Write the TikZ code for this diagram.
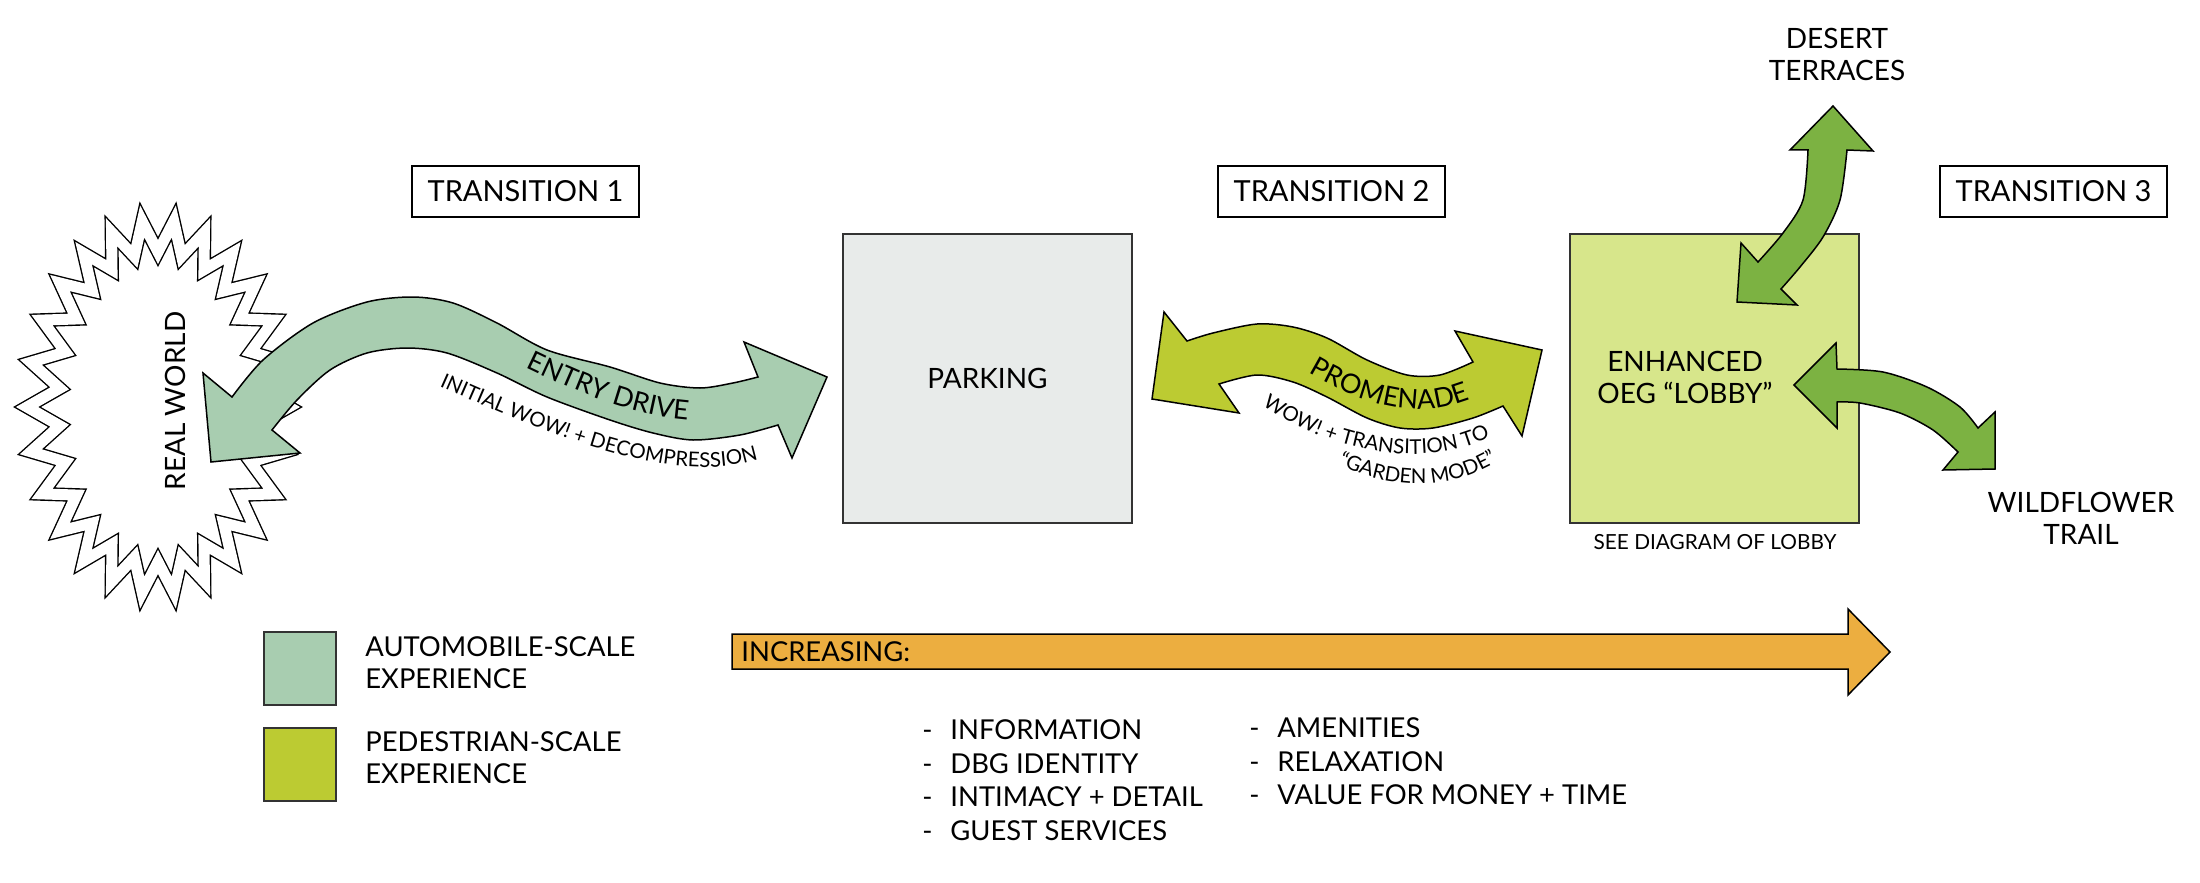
\documentclass[tikz,border=0pt]{standalone}
\usepackage{fontspec}
\setmainfont{Lato}
\usetikzlibrary{decorations.text}
\definecolor{autogreen}{HTML}{A8CDB0}
\definecolor{pedgreen}{HTML}{BCCB32}
\definecolor{lobbygreen}{HTML}{D7E68B}
\definecolor{trailgreen}{HTML}{7CB242}
\definecolor{parkgray}{HTML}{E8EBEA}
\definecolor{increaseorange}{HTML}{ECAE40}
\tikzset{
  transbox/.style={draw, line width=0.8pt, minimum width=113.5pt, minimum height=25.5pt, inner sep=0pt, font=\fontsize{14.5}{17}\selectfont},
  bigtext/.style={inner sep=0pt, align=center, font=\fontsize{14}{16}\selectfont},
  smalltext/.style={inner sep=0pt, font=\fontsize{10.4}{12}\selectfont},
  listtext/.style={inner sep=0pt, align=left, font=\fontsize{13.7}{16}\selectfont},
  arrowline/.style={draw=black, line width=0.75pt, line join=miter},
  legendbox/.style={draw=black!80, line width=0.8pt}
}
\begin{document}
\begin{tikzpicture}[x=0.5pt, y=-0.5pt]
	\fill[white] (0,0) rectangle (2200,883);
	% real world
	\draw[line width=0.7pt, double=white, double distance=5.5pt, line join=miter]
		(289,407) \foreach \k in {1,...,51} { -- ({158+(131-32*mod(\k,2))*cos(6.9231*\k)}, {407+(187-32*mod(\k,2))*sin(6.9231*\k)}) } -- cycle;
	\node[bigtext, rotate=90] (realworld) at (175,401) {REAL WORLD};
	% entry drive
	\filldraw[arrowline, fill=autogreen] (211,462) -- (300,453) -- (272,430)
		-- plot[smooth] coordinates {(272,430) (297,400) (330,370) (367,353) (407,348) (447,353) (497,373) (547,397) (610,420) (653,433) (693,440) (740,435) (778,425)}
		-- (792,458) -- (827,377) -- (744,342) -- (758,377)
		-- plot[smooth] coordinates {(758,377) (733,383) (700,388) (660,383) (610,367) (547,350) (497,323) (453,303) (413,297) (367,302) (313,323) (263,360) (232,397)}
		-- (203,373) -- cycle;
	\path[decorate, decoration={text along path, text align=center, text={|\fontsize{13.5}{14}\selectfont|ENTRY DRIVE}}]
		(497,353) .. controls (580,395) and (650,425) .. (720,420);
	\path[decorate, decoration={text along path, text align=center, text={|\fontsize{10.2}{12}\selectfont|INITIAL WOW! + DECOMPRESSION}}]
		(430,382) .. controls (560,440) and (680,490) .. (768,456);
	% parking and lobby
	\node[draw=black!80, line width=0.8pt, fill=parkgray, minimum size=144.5pt, inner sep=0pt, font=\fontsize{14}{16}\selectfont] (parking) at (987.5,378.5) {PARKING};
	\node[draw=black!80, line width=0.8pt, fill=lobbygreen, minimum size=144.5pt, inner sep=0pt] (lobby) at (1714.5,378.5) {};
	\node[bigtext] (lobbytext) at (1685,377) {ENHANCED\\OEG “LOBBY”};
	\node[smalltext] (seelobby) at (1715,542) {SEE DIAGRAM OF LOBBY};
	% promenade
	\filldraw[arrowline, fill=pedgreen] (1152,399) -- (1239,413) -- (1219,384)
		-- plot[smooth] coordinates {(1219,384) (1257,375) (1293,382) (1327,397) (1367,418) (1400,428) (1433,428) (1473,418) (1503,406)}
		-- (1522,436) -- (1542,350) -- (1455,331) -- (1473,362)
		-- plot[smooth] coordinates {(1473,362) (1440,375) (1407,375) (1367,360) (1327,338) (1293,327) (1257,324) (1213,333) (1187,341)}
		-- (1164,312) -- cycle;
	\path[decorate, decoration={text along path, text align=center, text={|\fontsize{13.5}{14}\selectfont|PROMENADE}}]
		(1296,365) .. controls (1360,405) and (1420,425) .. (1484,393);
	\path[decorate, decoration={text along path, text align=center, text={|\fontsize{10.2}{12}\selectfont|WOW! + TRANSITION TO}}]
		(1255,400) .. controls (1320,450) and (1430,475) .. (1498,432);
	\path[decorate, decoration={text along path, text align=center, text={|\fontsize{10.2}{12}\selectfont|“GARDEN MODE”}}]
		(1335,463) .. controls (1390,490) and (1450,492) .. (1500,460);
	% desert terraces and wildflower trail
	\filldraw[arrowline, fill=trailgreen] (1833,106) -- (1873,151) -- (1847,150)
		-- plot[smooth] coordinates {(1847,150) (1840,200) (1823,237) (1800,267) (1781,289)}
		-- (1797,305) -- (1737,302) -- (1741,243) -- (1758,262)
		-- plot[smooth] coordinates {(1758,262) (1783,233) (1803,200) (1808,150)}
		-- (1790,150) -- cycle;
	\filldraw[arrowline, fill=trailgreen] (1794,385) -- (1836,343) -- (1837,369)
		-- plot[smooth] coordinates {(1837,369) (1883,372) (1927,387) (1960,407) (1978,428)}
		-- (1995,412) -- (1995,469) -- (1943,470) -- (1958,452)
		-- plot[smooth] coordinates {(1958,452) (1933,430) (1900,413) (1860,403) (1837,402)}
		-- (1837,428) -- cycle;
	\node[bigtext] (desert) at (1837,54) {DESERT\\TERRACES};
	\node[bigtext] (wildflower) at (2081,518) {WILDFLOWER\\TRAIL};
	% transitions
	\node[transbox] (trans1) at (525.5,191.5) {TRANSITION 1};
	\node[transbox] (trans2) at (1331.5,191.5) {TRANSITION 2};
	\node[transbox] (trans3) at (2053.5,191.5) {TRANSITION 3};
	% legend
	\filldraw[legendbox, fill=autogreen] (264,632) rectangle (336,705);
	\filldraw[legendbox, fill=pedgreen] (264,728) rectangle (336,801);
	\node[listtext, anchor=west] (autolabel) at (365,663) {AUTOMOBILE-SCALE\\EXPERIENCE};
	\node[listtext, anchor=west] (pedlabel) at (365,758) {PEDESTRIAN-SCALE\\EXPERIENCE};
	% increasing
	\filldraw[arrowline, fill=increaseorange] (732,634) -- (1848,634) -- (1848,609) -- (1890,652) -- (1848,695) -- (1848,669) -- (732,669) -- cycle;
	\node[listtext, anchor=west] (increasing) at (741,652) {INCREASING:};
	\foreach \what [count=\i] in {INFORMATION, DBG IDENTITY, INTIMACY + DETAIL, GUEST SERVICES}
		\node[listtext, anchor=west] (more\i) at (922,{730+33.4*(\i-1)}) {\makebox[14pt][l]{-}\what};
	\foreach \what [count=\i] in {AMENITIES, RELAXATION, VALUE FOR MONEY + TIME}
		\node[listtext, anchor=west] (extra\i) at (1249,{728+33.4*(\i-1)}) {\makebox[14pt][l]{-}\what};
\end{tikzpicture}
\end{document}
